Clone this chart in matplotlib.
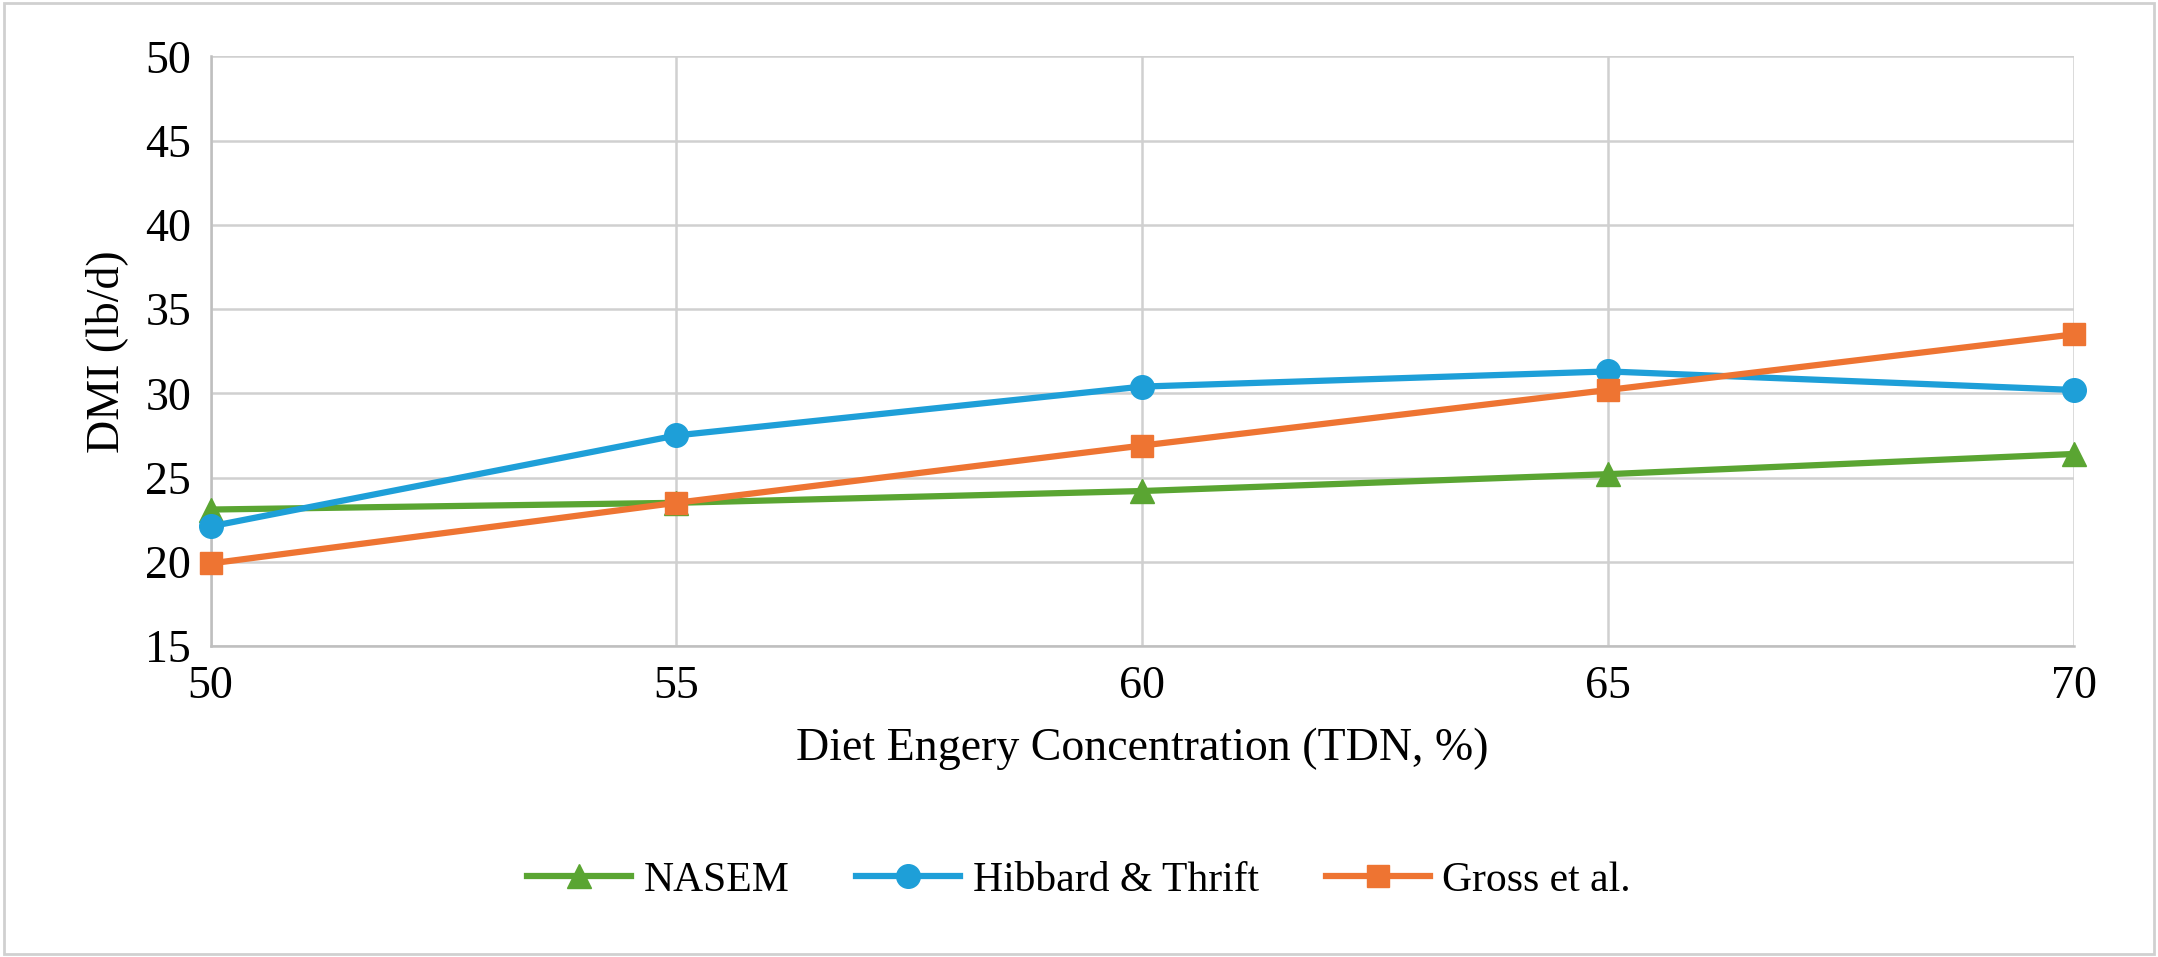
import matplotlib
matplotlib.use("Agg")
import matplotlib.pyplot as plt
from matplotlib.patches import Rectangle

tdn = [50, 55, 60, 65, 70]
nasem = [23.1, 23.5, 24.2, 25.2, 26.4]
hibbard = [22.1, 27.5, 30.4, 31.3, 30.2]
gross = [19.9, 23.5, 26.9, 30.2, 33.5]
yticks = [15, 20, 25, 30, 35, 40, 45, 50]
xticks = [50, 55, 60, 65, 70]

plt.rcParams['font.family'] = ['Liberation Serif', 'DejaVu Serif']
fig = plt.figure(figsize=(21.58, 9.57), dpi=100)
ax = fig.add_axes([0.0976, 0.325, 0.8634, 0.616])
ax.plot(tdn, nasem, color='#5aa532', lw=4.5, marker='^', ms=17, label='NASEM', clip_on=False, zorder=3)
ax.plot(tdn, hibbard, color='#1e9fd8', lw=4.5, marker='o', ms=17, label='Hibbard & Thrift', clip_on=False, zorder=3)
ax.plot(tdn, gross, color='#ee7432', lw=4.5, marker='s', ms=16, label='Gross et al.', clip_on=False, zorder=3)
ax.set_xlim(50, 70)
ax.set_ylim(15, 50)
ax.set_xticks(xticks)
ax.set_yticks(yticks)
ax.grid(True, color='#d0d0d0', lw=1.8)
ax.set_axisbelow(True)
for s in ['top', 'right']:
    ax.spines[s].set_visible(False)
for s in ['left', 'bottom']:
    ax.spines[s].set_color('#bfbfbf')
    ax.spines[s].set_linewidth(1.8)
ax.tick_params(labelsize=33, length=0, pad=14)
ax.set_xlabel('Diet Engery Concentration (TDN, %)', fontsize=33, labelpad=14)
ax.set_ylabel('DMI (lb/d)', fontsize=33, labelpad=12)
fig.legend(loc='center', bbox_to_anchor=(0.5, 0.08), ncol=3, frameon=False, fontsize=30,
           handlelength=2.5, handletextpad=0.3, columnspacing=1.6)
fig.add_artist(Rectangle((0.002, 0.003), 0.996, 0.994, transform=fig.transFigure,
                         fill=False, edgecolor='#d0d0d0', lw=2))
fig.savefig('out.png', dpi=100)
